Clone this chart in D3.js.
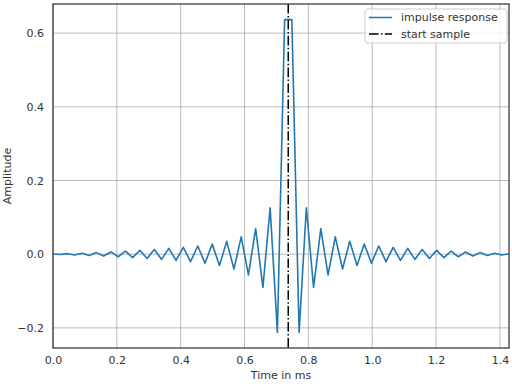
<!DOCTYPE html>
<html>
<head>
<meta charset="utf-8">
<script src="https://cdn.jsdelivr.net/npm/d3@7"></script>
<style>
body { margin: 0; background: #fff; }
text { font-family: "DejaVu Sans", sans-serif; }
</style>
</head>
<body>
<div id="chart-area"></div>
<script>
// sample rate in kHz, so n / fs gives ms
var fs = 44.1;
var samples = d3.range(64);
var amplitude = [
	0.0003, -0.0008, 0.0014, -0.0021, 0.0027, -0.0035, 0.0043, -0.0051,
	0.0061, -0.0070, 0.0081, -0.0092, 0.0104, -0.0116, 0.0129, -0.0142,
	0.0156, -0.0170, 0.0187, -0.0203, 0.0222, -0.0244, 0.0273, -0.0308,
	0.0348, -0.0403, 0.0470, -0.0561, 0.0693, -0.0900, 0.1260, -0.2122,
	0.6366, 0.6366, -0.2122, 0.1260, -0.0900, 0.0693, -0.0561, 0.0470,
	-0.0403, 0.0348, -0.0308, 0.0273, -0.0244, 0.0222, -0.0203, 0.0187,
	-0.0170, 0.0156, -0.0142, 0.0129, -0.0116, 0.0104, -0.0092, 0.0081,
	-0.0070, 0.0061, -0.0051, 0.0043, -0.0035, 0.0027, -0.0021, 0.0014
];
var startSample = 32.5;
var xTicks = [0, 0.2, 0.4, 0.6, 0.8, 1.0, 1.2, 1.4];
var yTicks = [-0.2, 0, 0.2, 0.4, 0.6];
var legendLabels = ["impulse response", "start sample"];

var margin = {left: 53, top: 4, right: 3, bottom: 36};
var width = 512 - margin.left - margin.right;
var height = 384 - margin.top - margin.bottom;

var svg = d3.select("#chart-area").append("svg")
	.attr("width", 512)
	.attr("height", 384);

var group = svg.append("g")
	.attr("transform", "translate(" + margin.left + "," + margin.top + ")");

var data = samples.map((n) => { return {t: n / fs, v: amplitude[n]}; });

var ymin = d3.min(amplitude), ymax = d3.max(amplitude);
var pad = (ymax - ymin) * 0.05;

var x = d3.scaleLinear()
	.domain([0, d3.max(data, (d) => d.t)])
	.range([0, width]);

var y = d3.scaleLinear()
	.domain([ymin - pad, ymax + pad])
	.range([height, 0]);

// grid
group.append("g")
	.selectAll("line.vgrid").data(xTicks).enter()
	.append("line")
	.attr("x1", (d) => x(d)).attr("x2", (d) => x(d))
	.attr("y1", 0).attr("y2", height)
	.attr("stroke", "#a8a8a8").attr("stroke-width", 0.8);
group.append("g")
	.selectAll("line.hgrid").data(yTicks).enter()
	.append("line")
	.attr("y1", (d) => y(d)).attr("y2", (d) => y(d))
	.attr("x1", 0).attr("x2", width)
	.attr("stroke", "#a8a8a8").attr("stroke-width", 0.8);

// axes
var bottomAxis = d3.axisBottom(x)
	.tickValues(xTicks)
	.tickSize(0)
	.tickPadding(8)
	.tickFormat(d3.format(".1f"));
var xg = group.append("g")
	.attr("transform", "translate(0," + height + ")")
	.call(bottomAxis);

var leftAxis = d3.axisLeft(y)
	.tickValues(yTicks)
	.tickSize(0)
	.tickPadding(9)
	.tickFormat(d3.format(".1f"));
var yg = group.append("g")
	.call(leftAxis);

[xg, yg].forEach((g) => {
	g.select(".domain").remove();
	g.selectAll("text")
		.attr("font-size", "11px")
		.attr("fill", "#333");
});

// impulse response
var line = d3.line()
	.x((d) => x(d.t))
	.y((d) => y(d.v));
group.append("path")
	.datum(data)
	.attr("fill", "none")
	.attr("stroke", "#1f77b4")
	.attr("stroke-width", 1.6)
	.attr("stroke-linejoin", "round")
	.attr("d", line);

// start sample marker
group.append("line")
	.attr("x1", x(startSample / fs)).attr("x2", x(startSample / fs))
	.attr("y1", 0).attr("y2", height)
	.attr("stroke", "#000")
	.attr("stroke-width", 1.5)
	.attr("stroke-dasharray", "9.6,2.4,1.5,2.4");

// frame
group.append("rect")
	.attr("width", width).attr("height", height)
	.attr("fill", "none")
	.attr("stroke", "#333")
	.attr("stroke-width", 1.25);

// legend
var legend = group.append("g")
	.attr("transform", "translate(" + (width - 144) + ",5)");
legend.append("rect")
	.attr("width", 142).attr("height", 34)
	.attr("rx", 2.5)
	.attr("fill", "#fff").attr("fill-opacity", 0.8)
	.attr("stroke", "#ccc").attr("stroke-width", 1);
var entries = legend.selectAll("g.entry").data(legendLabels).enter()
	.append("g")
	.attr("transform", (d, i) => "translate(0," + (8.5 + i * 16.5) + ")");
entries.append("line")
	.attr("x1", 4).attr("x2", 27)
	.attr("stroke", (d, i) => i == 0 ? "#1f77b4" : "#000")
	.attr("stroke-width", 1.5)
	.attr("stroke-dasharray", (d, i) => i == 0 ? null : "9.6,2.4,1.5,2.4");
entries.append("text")
	.attr("x", 36)
	.attr("dy", "0.35em")
	.attr("font-size", "11px")
	.attr("fill", "#333")
	.text((d) => d);

// axis labels
group.append("text")
	.attr("x", width / 2)
	.attr("y", height + 31)
	.attr("font-size", "11px")
	.attr("fill", "#333")
	.attr("text-anchor", "middle")
	.text("Time in ms");
group.append("text")
	.attr("x", -height / 2)
	.attr("y", -42)
	.attr("font-size", "11px")
	.attr("fill", "#333")
	.attr("text-anchor", "middle")
	.attr("transform", "rotate(-90)")
	.text("Amplitude");
</script>
</body>
</html>
